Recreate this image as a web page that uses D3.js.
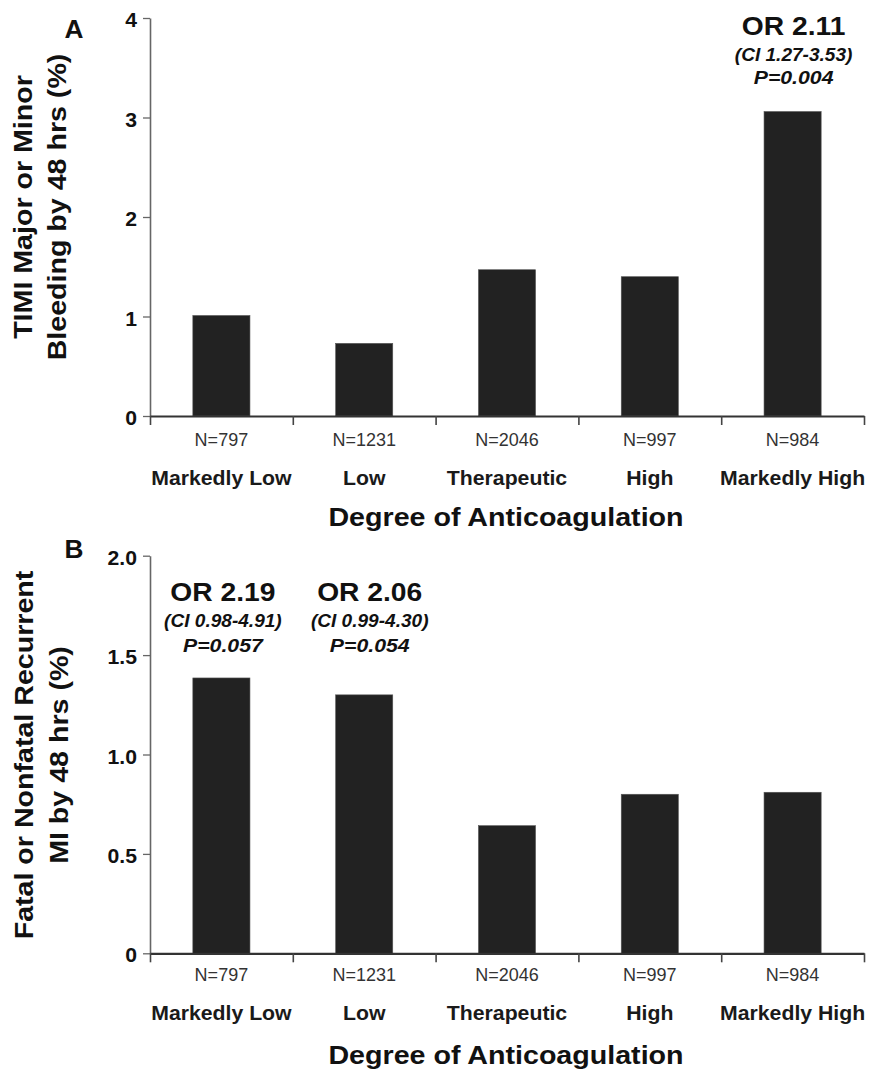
<!DOCTYPE html>
<html>
<head>
<meta charset="utf-8">
<script src="https://cdn.jsdelivr.net/npm/d3@7"></script>
<style>
  html, body { margin: 0; padding: 0; background: #fff; }
  svg { display: block; }
</style>
</head>
<body>
<svg id="chart" width="869" height="1069"></svg>
<script>
// ---------------- data ----------------
const categories = ["Markedly Low", "Low", "Therapeutic", "High", "Markedly High"];
const sampleSizes = ["N=797", "N=1231", "N=2046", "N=997", "N=984"];

const bleedingValues = [1.01, 0.73, 1.47, 1.40, 3.06];
const bleedingTicks = [0, 1, 2, 3, 4];
const bleedingTickLabels = ["0", "1", "2", "3", "4"];
const bleedingTitle = ["TIMI Major or Minor", "Bleeding by 48 hrs (%)"];
const bleedingAnnotations = [
  { index: 4, or: "OR 2.11", ci: "(CI 1.27-3.53)", p: "P=0.004" }
];

const miValues = [1.385, 1.30, 0.642, 0.80, 0.81];
const miTicks = [0, 0.5, 1.0, 1.5, 2.0];
const miTickLabels = ["0", "0.5", "1.0", "1.5", "2.0"];
const miTitle = ["Fatal or Nonfatal Recurrent", "MI by 48 hrs (%)"];
const miAnnotations = [
  { index: 0, or: "OR 2.19", ci: "(CI 0.98-4.91)", p: "P=0.057" },
  { index: 1, or: "OR 2.06", ci: "(CI 0.99-4.30)", p: "P=0.054" }
];

const xAxisTitle = "Degree of Anticoagulation";

// ---------------- drawing ----------------
const svg = d3.select("#chart");
const FONT = "'Liberation Sans', Arial, Helvetica, sans-serif";

function label(g, x, y, str, o) {
  o = Object.assign({ size: 16, weight: "bold", style: "normal", sx: 1, anchor: "middle", fill: "#111", rotate: 0 }, o || {});
  let tr = `translate(${x},${y})`;
  if (o.rotate) tr += ` rotate(${o.rotate})`;
  tr += ` scale(${o.sx},1)`;
  return g.append("text")
    .attr("transform", tr)
    .attr("text-anchor", o.anchor)
    .attr("font-family", FONT)
    .attr("font-size", o.size)
    .attr("font-weight", o.weight)
    .attr("font-style", o.style)
    .attr("fill", o.fill)
    .text(str);
}

const X0 = 150, X1 = 864;

function panel(cfg) {
  const g = svg.append("g");

  const x = d3.scaleBand().domain(categories).range([X0, X1])
    .paddingInner(0.6).paddingOuter(0.3);
  const xEdges = d3.scaleLinear().domain([0, categories.length]).range([X0, X1]);
  const y = d3.scaleLinear().domain(cfg.domain).range([cfg.yBottom, cfg.yTop]);

  // bars
  g.selectAll("rect.bar").data(cfg.values).join("rect")
    .attr("class", "bar")
    .attr("x", (d, i) => x(categories[i]))
    .attr("width", x.bandwidth())
    .attr("y", d => y(d))
    .attr("height", d => y(0) - y(d))
    .attr("fill", "#222")
    .attr("stroke", "#555")
    .attr("stroke-width", 0.6);

  // y axis
  const yAxis = g.append("g")
    .attr("transform", `translate(${X0},0)`)
    .call(d3.axisLeft(y).tickValues(cfg.ticks)
      .tickFormat((d, i) => cfg.tickLabels[i])
      .tickSize(7).tickSizeOuter(0));
  yAxis.select(".domain").attr("stroke", "#666").attr("stroke-width", 1.6);
  yAxis.selectAll(".tick line").attr("stroke", "#666").attr("stroke-width", 1.3);
  yAxis.selectAll(".tick text")
    .attr("x", null).attr("dy", "0.38em")
    .attr("transform", "translate(-13,1) scale(1.06,1)")
    .attr("text-anchor", "end")
    .attr("font-family", FONT).attr("font-size", 20)
    .attr("font-weight", "bold").attr("fill", "#111");

  // x axis (ticks at category boundaries)
  const xAxis = g.append("g")
    .attr("transform", `translate(0,${y(0)})`)
    .call(d3.axisBottom(xEdges).tickValues(d3.range(categories.length + 1))
      .tickFormat("").tickSize(9).tickSizeOuter(0));
  xAxis.select(".domain").attr("stroke", "#333").attr("stroke-width", 2.2);
  xAxis.selectAll(".tick line").attr("stroke", "#444").attr("stroke-width", 1.6);

  // N labels and categories
  categories.forEach((c, i) => {
    const cx = x(c) + x.bandwidth() / 2;
    label(g, cx, cfg.nY, sampleSizes[i], { size: 17.5, weight: "normal", sx: 1.03, fill: "#333" });
    label(g, cx, cfg.catY, c, { size: 19.5, sx: 1.09, fill: "#1a1a1a" });
  });

  // x axis title
  label(g, 506, cfg.xTitleY, xAxisTitle, { size: 26.5, sx: 1.08 });

  // y axis title (two lines)
  label(g, cfg.yTitleX[0], cfg.yTitleCY, cfg.title[0], { size: 26, sx: 1.1, rotate: -90 });
  label(g, cfg.yTitleX[1], cfg.yTitleCY, cfg.title[1], { size: 26, sx: 1.1, rotate: -90 });

  // panel letter
  label(g, 74, cfg.letterY, cfg.letter, { size: 25, sx: 1.05 });

  // annotations
  cfg.annotations.forEach(a => {
    const cx = x(categories[a.index]) + x.bandwidth() / 2 + (cfg.annDx ? cfg.annDx[a.index] : 0);
    label(g, cx, cfg.annY[0], a.or, { size: 25, sx: 1.13 });
    label(g, cx, cfg.annY[1], a.ci, { size: 17.5, sx: 1.09, style: "italic" });
    label(g, cx, cfg.annY[2], a.p, { size: 19, sx: 1.12, style: "italic" });
  });
}

panel({
  letter: "A", letterY: 38,
  values: bleedingValues, domain: [0, 4], ticks: bleedingTicks, tickLabels: bleedingTickLabels,
  yBottom: 416, yTop: 18,
  nY: 446, catY: 485, xTitleY: 526,
  title: bleedingTitle, yTitleX: [32, 66], yTitleCY: 207,
  annotations: bleedingAnnotations, annY: [35, 61, 84], annDx: [0, 0, 0, 0, 1]
});

panel({
  letter: "B", letterY: 558,
  values: miValues, domain: [0, 2], ticks: miTicks, tickLabels: miTickLabels,
  yBottom: 953.3, yTop: 555.7,
  nY: 980.5, catY: 1019.5, xTitleY: 1064,
  title: miTitle, yTitleX: [33, 68], yTitleCY: 755,
  annotations: miAnnotations, annY: [600.5, 626.5, 651.5], annDx: [1.5, 5.5, 0, 0, 0]
});
</script>
</body>
</html>
